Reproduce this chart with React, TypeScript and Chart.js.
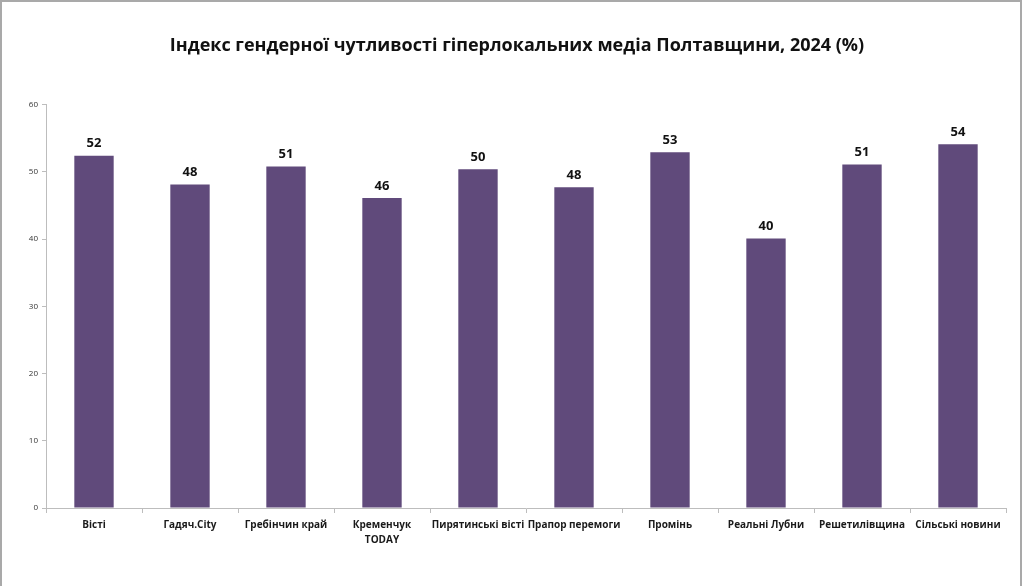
import React, { useEffect, useRef } from "react";
import { Chart, registerables, Plugin } from "chart.js";

Chart.register(...registerables);

const titleText = "Індекс гендерної чутливості гіперлокальних медіа Полтавщини, 2024 (%)";

const outlets: (string | string[])[] = [
  "Вісті",
  "Гадяч.City",
  "Гребінчин край",
  ["Кременчук", "TODAY"],
  "Пирятинські вісті",
  "Прапор перемоги",
  "Промінь",
  "Реальні Лубни",
  "Решетилівщина",
  "Сільські новини",
];

const indexValues = [52.4, 48.1, 50.8, 46.1, 50.4, 47.7, 52.9, 40.1, 51.1, 54.1];

const yTicks = [0, 10, 20, 30, 40, 50, 60];

const barColor = "#604A7B";
const fontFamily = "'Open Sans', 'Noto Sans', sans-serif";

// grey frame around the whole picture
const framePlugin: Plugin<"bar"> = {
  id: "frame",
  beforeDraw(chart) {
    const { ctx, width, height } = chart;
    ctx.save();
    ctx.fillStyle = "#ffffff";
    ctx.fillRect(0, 0, width, height);
    ctx.strokeStyle = "#a9a9a9";
    ctx.lineWidth = 2;
    ctx.beginPath();
    ctx.moveTo(1, height);
    ctx.lineTo(1, 1);
    ctx.lineTo(width - 3, 1);
    ctx.lineTo(width - 3, height);
    ctx.stroke();
    ctx.restore();
  },
};

// value labels above each bar
const valueLabels: Plugin<"bar"> = {
  id: "valueLabels",
  afterDatasetsDraw(chart) {
    const { ctx } = chart;
    const meta = chart.getDatasetMeta(0);
    ctx.save();
    ctx.font = `bold 13px ${fontFamily}`;
    ctx.fillStyle = "#111111";
    ctx.textAlign = "center";
    ctx.textBaseline = "middle";
    meta.data.forEach((bar, i) => {
      const v = indexValues[i];
      ctx.fillText(String(Math.round(v)), bar.x, bar.y - 12);
    });
    ctx.restore();
  },
};

const App: React.FC = () => {
  const chartRef = useRef<HTMLCanvasElement>(null);
  const chartInstance = useRef<Chart | null>(null);

  useEffect(() => {
    document.body.style.margin = "0";
    if (!chartRef.current) return;
    if (chartInstance.current) chartInstance.current.destroy();

    const ctx = chartRef.current.getContext("2d");
    if (!ctx) return;

    chartInstance.current = new Chart(ctx, {
      type: "bar",
      data: {
        labels: outlets,
        datasets: [
          {
            label: "Індекс",
            data: indexValues,
            backgroundColor: barColor,
            borderWidth: 0,
            barPercentage: 0.41,
            categoryPercentage: 1,
          },
        ],
      },
      options: {
        responsive: true,
        maintainAspectRatio: false,
        animation: false,
        layout: { padding: { left: 28, right: 18, top: 0, bottom: 18 } },
        plugins: {
          legend: { display: false },
          tooltip: { enabled: false },
          title: {
            display: true,
            text: titleText,
            color: "#111111",
            font: { family: fontFamily, size: 18, weight: "bold" },
            padding: { top: 35, bottom: 48 },
          },
        },
        scales: {
          x: {
            grid: {
              drawOnChartArea: false,
              drawTicks: true,
              tickLength: 5,
              color: "#bdbdbd",
            },
            border: { color: "#bdbdbd" },
            ticks: {
              color: "#1a1a1a",
              font: { family: fontFamily, size: 10, weight: "bold", lineHeight: 1.5 },
              maxRotation: 0,
              autoSkip: false,
              padding: 5,
            },
            afterFit(scale) {
              scale.height = 60;
            },
          },
          y: {
            min: 0,
            max: 60,
            afterBuildTicks(scale) {
              scale.ticks = yTicks.map((v) => ({ value: v }));
            },
            grid: {
              drawOnChartArea: false,
              drawTicks: true,
              tickLength: 4,
              color: "#bdbdbd",
            },
            border: { color: "#bdbdbd" },
            ticks: {
              color: "#333333",
              font: { family: fontFamily, size: 8 },
              padding: 4,
            },
            afterFit(scale) {
              scale.width = 18;
            },
          },
        },
      },
      plugins: [framePlugin, valueLabels],
    });

    return () => {
      if (chartInstance.current) {
        chartInstance.current.destroy();
        chartInstance.current = null;
      }
    };
  }, []);

  return (
    <div style={{ width: 1024, height: 586, position: "relative" }}>
      <canvas ref={chartRef} />
    </div>
  );
};

export default App;
